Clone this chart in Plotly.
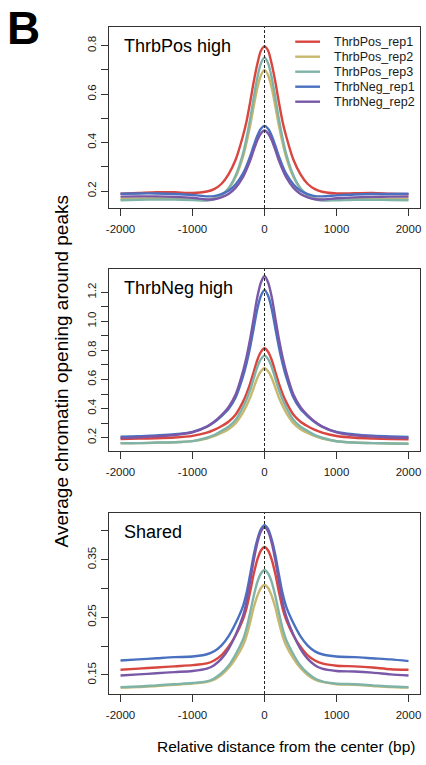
import plotly.graph_objects as go

# Distance from peak centre (bp)
DIST = [-2000, -1750, -1500, -1250, -1000, -800, -700, -600, -500, -400, -300, -250, -200, -150, -100, -50,
        0, 50, 100, 150, 200, 250, 300, 400, 500, 600, 700, 800, 1000, 1250, 1500, 1750, 2000]

SAMPLES = ["ThrbPos_rep1", "ThrbPos_rep2", "ThrbPos_rep3", "ThrbNeg_rep1", "ThrbNeg_rep2"]
COLORS = ["#D8463F", "#C8B86E", "#7FB3A8", "#4A70C0", "#7A58A8"]
PANEL_TITLES = ["ThrbPos high", "ThrbNeg high", "Shared"]

# --- ThrbPos high peaks ---
pos_high_pos1 = [0.189, 0.192, 0.195, 0.195, 0.192, 0.198, 0.208, 0.229, 0.269, 0.330, 0.427, 0.487, 0.566, 0.651, 0.724, 0.779,
                 0.797, 0.779, 0.724, 0.651, 0.566, 0.487, 0.427, 0.330, 0.269, 0.229, 0.208, 0.197, 0.190, 0.191, 0.192, 0.189, 0.187]
pos_high_pos2 = [0.168, 0.169, 0.170, 0.169, 0.167, 0.164, 0.170, 0.184, 0.210, 0.259, 0.340, 0.399, 0.469, 0.549, 0.625, 0.678,
                 0.700, 0.678, 0.625, 0.549, 0.469, 0.399, 0.340, 0.259, 0.210, 0.184, 0.170, 0.164, 0.166, 0.168, 0.169, 0.168, 0.167]
pos_high_pos3 = [0.162, 0.164, 0.165, 0.165, 0.163, 0.161, 0.167, 0.182, 0.211, 0.265, 0.354, 0.419, 0.496, 0.585, 0.668, 0.727,
                 0.751, 0.727, 0.668, 0.585, 0.496, 0.419, 0.354, 0.265, 0.211, 0.182, 0.167, 0.161, 0.162, 0.164, 0.164, 0.163, 0.162]
pos_high_neg1 = [0.189, 0.190, 0.190, 0.188, 0.184, 0.178, 0.179, 0.187, 0.201, 0.228, 0.272, 0.304, 0.343, 0.387, 0.428, 0.457,
                 0.469, 0.457, 0.428, 0.387, 0.343, 0.304, 0.272, 0.228, 0.201, 0.187, 0.179, 0.178, 0.182, 0.186, 0.188, 0.188, 0.189]
pos_high_neg2 = [0.177, 0.178, 0.178, 0.176, 0.172, 0.165, 0.166, 0.174, 0.188, 0.214, 0.257, 0.289, 0.326, 0.369, 0.410, 0.438,
                 0.450, 0.438, 0.410, 0.369, 0.326, 0.289, 0.257, 0.214, 0.188, 0.174, 0.166, 0.165, 0.170, 0.174, 0.176, 0.177, 0.177]

# --- ThrbNeg high peaks ---
neg_high_pos1 = [0.190, 0.193, 0.196, 0.201, 0.212, 0.234, 0.253, 0.278, 0.309, 0.359, 0.446, 0.503, 0.571, 0.653, 0.734, 0.790,
                 0.815, 0.790, 0.734, 0.653, 0.571, 0.503, 0.446, 0.359, 0.309, 0.278, 0.253, 0.234, 0.211, 0.199, 0.194, 0.191, 0.188]
neg_high_pos2 = [0.161, 0.162, 0.165, 0.168, 0.176, 0.194, 0.210, 0.232, 0.258, 0.300, 0.372, 0.419, 0.475, 0.543, 0.610, 0.656,
                 0.677, 0.656, 0.610, 0.543, 0.475, 0.419, 0.372, 0.300, 0.258, 0.232, 0.210, 0.194, 0.175, 0.166, 0.162, 0.160, 0.158]
neg_high_pos3 = [0.162, 0.162, 0.166, 0.168, 0.176, 0.199, 0.217, 0.245, 0.275, 0.323, 0.408, 0.462, 0.528, 0.607, 0.685, 0.740,
                 0.764, 0.740, 0.685, 0.607, 0.528, 0.462, 0.408, 0.323, 0.275, 0.245, 0.217, 0.199, 0.175, 0.166, 0.162, 0.160, 0.158]
neg_high_neg1 = [0.207, 0.209, 0.215, 0.223, 0.240, 0.276, 0.306, 0.347, 0.397, 0.478, 0.620, 0.711, 0.822, 0.953, 1.085, 1.176,
                 1.216, 1.176, 1.085, 0.953, 0.822, 0.711, 0.620, 0.478, 0.397, 0.347, 0.306, 0.276, 0.239, 0.222, 0.213, 0.208, 0.205]
neg_high_neg2 = [0.198, 0.202, 0.209, 0.218, 0.237, 0.276, 0.309, 0.354, 0.410, 0.499, 0.655, 0.755, 0.878, 1.022, 1.167, 1.267,
                 1.312, 1.267, 1.167, 1.022, 0.878, 0.755, 0.655, 0.499, 0.410, 0.354, 0.309, 0.276, 0.236, 0.216, 0.207, 0.201, 0.198]

# --- Shared peaks ---
shared_pos1 = [0.159, 0.161, 0.163, 0.165, 0.167, 0.170, 0.175, 0.184, 0.199, 0.219, 0.246, 0.266, 0.294, 0.325, 0.350, 0.366,
               0.372, 0.366, 0.350, 0.325, 0.294, 0.266, 0.246, 0.219, 0.199, 0.184, 0.175, 0.170, 0.166, 0.165, 0.163, 0.160, 0.159]
shared_pos2 = [0.128, 0.129, 0.131, 0.133, 0.135, 0.138, 0.142, 0.150, 0.162, 0.179, 0.201, 0.218, 0.241, 0.267, 0.287, 0.301,
               0.306, 0.301, 0.287, 0.267, 0.241, 0.218, 0.201, 0.179, 0.162, 0.150, 0.142, 0.138, 0.134, 0.133, 0.131, 0.129, 0.128]
shared_pos3 = [0.129, 0.130, 0.132, 0.134, 0.136, 0.139, 0.144, 0.153, 0.166, 0.186, 0.211, 0.231, 0.258, 0.287, 0.311, 0.326,
               0.332, 0.326, 0.311, 0.287, 0.258, 0.231, 0.211, 0.186, 0.166, 0.153, 0.144, 0.139, 0.135, 0.134, 0.132, 0.130, 0.129]
shared_neg1 = [0.175, 0.177, 0.179, 0.181, 0.182, 0.186, 0.191, 0.201, 0.217, 0.240, 0.269, 0.292, 0.324, 0.358, 0.385, 0.403,
               0.410, 0.403, 0.385, 0.358, 0.324, 0.292, 0.269, 0.240, 0.217, 0.201, 0.191, 0.186, 0.182, 0.181, 0.179, 0.177, 0.174]
shared_neg2 = [0.149, 0.151, 0.153, 0.155, 0.157, 0.161, 0.167, 0.178, 0.195, 0.220, 0.252, 0.277, 0.312, 0.349, 0.379, 0.399,
               0.406, 0.399, 0.379, 0.349, 0.312, 0.277, 0.252, 0.220, 0.195, 0.178, 0.167, 0.161, 0.157, 0.156, 0.154, 0.151, 0.149]

X_TICKS = [-2000, -1000, 0, 1000, 2000]
Y_TICKS_1 = [0.2, 0.3, 0.4, 0.5, 0.6, 0.7, 0.8]
Y_LABELS_1 = ["0.2", "", "0.4", "", "0.6", "", "0.8"]
Y_TICKS_2 = [0.2, 0.3, 0.4, 0.5, 0.6, 0.7, 0.8, 0.9, 1.0, 1.1, 1.2]
Y_LABELS_2 = ["0.2", "", "0.4", "", "0.6", "", "0.8", "", "1.0", "", "1.2"]
Y_TICKS_3 = [0.15, 0.20, 0.25, 0.30, 0.35, 0.40]
Y_LABELS_3 = ["0.15", "", "0.25", "", "0.35", ""]

panels = [
    [pos_high_pos1, pos_high_pos2, pos_high_pos3, pos_high_neg1, pos_high_neg2],
    [neg_high_pos1, neg_high_pos2, neg_high_pos3, neg_high_neg1, neg_high_neg2],
    [shared_pos1, shared_pos2, shared_pos3, shared_neg1, shared_neg2],
]

W, H = 426, 765
FONT = "Liberation Sans, Arial, sans-serif"
INK = "#1a1a1a"

# panel boxes in pixels: (top, bottom)
X_LEFT, X_RIGHT = 107, 421
BOXES = [(27, 208), (269, 451), (513, 694)]
Y_RANGES = [[0.130, 0.877], [0.108, 1.360], [0.117, 0.431]]
Y_TICKSETS = [(Y_TICKS_1, Y_LABELS_1), (Y_TICKS_2, Y_LABELS_2), (Y_TICKS_3, Y_LABELS_3)]

fig = go.Figure()
layout = dict(
    width=W, height=H, margin=dict(l=0, r=0, t=0, b=0),
    paper_bgcolor="white", plot_bgcolor="white", showlegend=False,
    font=dict(family=FONT, color=INK),
)

shapes = []
annotations = []
for i, series in enumerate(panels):
    sfx = "" if i == 0 else str(i + 1)
    xa, ya = "x" + sfx, "y" + sfx
    for name, col, vals in zip(SAMPLES, COLORS, series):
        fig.add_trace(go.Scatter(
            x=DIST, y=vals, mode="lines", name=name, xaxis=xa, yaxis=ya,
            line=dict(color=col, width=2.4, shape="spline", smoothing=0.8),
            showlegend=False,
        ))
    top, bot = BOXES[i]
    ticks, labels = Y_TICKSETS[i]
    common = dict(showline=True, mirror=True, linecolor="#333333", linewidth=1,
                  showgrid=False, zeroline=False, ticks="outside", ticklen=7,
                  tickcolor="#333333", tickwidth=1,
                  tickfont=dict(family=FONT, size=11.5, color=INK))
    layout["xaxis" + sfx] = dict(
        common, domain=[X_LEFT / W, X_RIGHT / W], range=[-2160, 2160],
        tickvals=X_TICKS, ticktext=[str(t) for t in X_TICKS], anchor=ya,
        ticklabelstandoff=3,
    )
    layout["yaxis" + sfx] = dict(
        common, domain=[1 - bot / H, 1 - top / H], range=Y_RANGES[i],
        tickvals=ticks, ticktext=labels, tickangle=-90, anchor=xa,
    )
    # dashed centre line
    shapes.append(dict(type="line", xref=xa, yref=ya + " domain", x0=0, x1=0, y0=0, y1=1,
                       line=dict(color="#222222", width=1, dash="3px,2px"), layer="above"))
    annotations.append(dict(text=PANEL_TITLES[i], xref=xa + " domain", yref=ya + " domain",
                            x=0.043, y=0.895, xanchor="left", yanchor="middle", showarrow=False,
                            font=dict(family=FONT, size=18, color="#000000")))

# legend in the top panel
LEG_Y = [41.7, 56.7, 71.7, 86.7, 101.7]
for name, col, ly in zip(SAMPLES, COLORS, LEG_Y):
    shapes.append(dict(type="line", xref="paper", yref="paper", x0=295 / W, x1=320 / W,
                       y0=1 - ly / H, y1=1 - ly / H, line=dict(color=col, width=2.4)))
    annotations.append(dict(text=name, xref="paper", yref="paper", x=332 / W, y=1 - ly / H,
                            xanchor="left", yanchor="middle", showarrow=False,
                            font=dict(family=FONT, size=12.5, color=INK)))

# figure panel letter and shared axis titles
annotations.append(dict(text="<b>B</b>", xref="paper", yref="paper", x=21 / W, y=1 - 28 / H,
                        xanchor="center", yanchor="middle", showarrow=False,
                        font=dict(family=FONT, size=46, color="#000000")))
annotations.append(dict(text="Average chromatin opening around peaks", xref="paper", yref="paper",
                        x=59 / W, y=1 - 371 / H, xanchor="center", yanchor="middle", textangle=-90,
                        showarrow=False, font=dict(family=FONT, size=19, color="#000000")))
annotations.append(dict(text="Relative distance from the center (bp)", xref="paper", yref="paper",
                        x=286 / W, y=1 - 746 / H, xanchor="center", yanchor="middle",
                        showarrow=False, font=dict(family=FONT, size=15.5, color="#000000")))

layout["shapes"] = shapes
layout["annotations"] = annotations
fig.update_layout(**layout)
fig.write_html("out.html")
